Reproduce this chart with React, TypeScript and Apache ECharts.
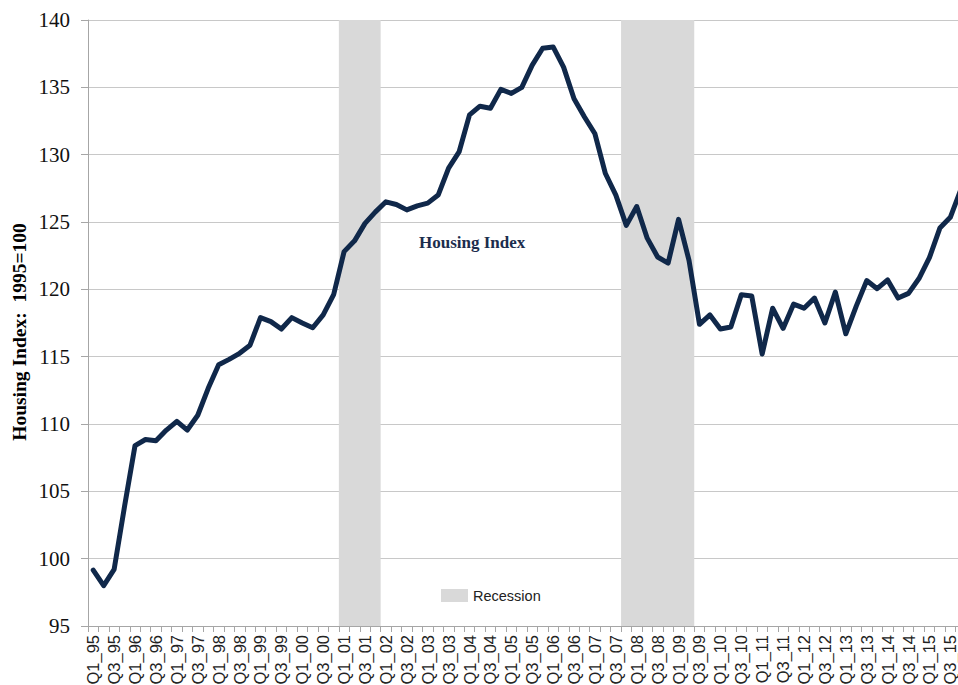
import React, { useEffect, useRef } from "react";
import * as echarts from "echarts";

const years = ["95","96","97","98","99","00","01","02","03","04","05","06","07","08","09","10","11","12","13","14","15"];
const categories: string[] = [];
years.forEach((y) => { for (let q = 1; q <= 4; q++) categories.push(`Q${q}_${y}`); });

const housingIndex = [
  99.15, 98.0, 99.2, 103.9, 108.4, 108.85, 108.75, 109.55, 110.2, 109.55, 110.65, 112.65, 114.4, 114.8,
  115.25, 115.85, 117.9, 117.6, 117.05, 117.9, 117.5, 117.15, 118.1, 119.6, 122.8, 123.6, 124.9, 125.75,
  126.5, 126.3, 125.9, 126.2, 126.4, 127.0, 129.0, 130.2, 132.95, 133.6, 133.45, 134.85, 134.55, 135.0,
  136.65, 137.9, 138.0, 136.5, 134.15, 132.8, 131.55, 128.6, 127.0, 124.75, 126.15, 123.8, 122.4, 121.95,
  125.2, 122.15, 117.4, 118.1, 117.05, 117.2, 119.6, 119.5, 115.2, 118.6, 117.1, 118.9, 118.6, 119.35,
  117.5, 119.8, 116.7, 118.75, 120.65, 120.05, 120.7, 119.35, 119.7, 120.8, 122.35, 124.55, 125.35, 127.4
];

const recessions: [string, string][] = [["Q1_01", "Q4_01"], ["Q4_07", "Q2_09"]];
const yTicks = { min: 95, max: 140, interval: 5 };

export default function App() {
  const ref = useRef<HTMLDivElement>(null);
  useEffect(() => {
    if (!ref.current) return;
    const chart = echarts.init(ref.current, undefined, { renderer: "svg" });
    const recessionData = recessions.map(([s, e]) => [categories.indexOf(s), categories.indexOf(e)]);
    chart.setOption({
      animation: false,
      backgroundColor: "#ffffff",
      grid: { left: 88, right: 34, top: 20, bottom: 59, outerBoundsMode: "none", containLabel: false },
      legend: {
        data: [{ name: "Recession", icon: "rect" }],
        left: 436,
        top: 583,
        itemWidth: 27,
        itemHeight: 13,
        itemGap: 6,
        textStyle: { fontFamily: "Liberation Sans", fontSize: 14.5, color: "#222" },
      },
      xAxis: {
        type: "category",
        data: categories,
        boundaryGap: true,
        axisLine: { lineStyle: { color: "#a6a6a6", width: 1 } },
        axisTick: { show: true, interval: 0, length: 6, lineStyle: { color: "#a6a6a6" } },
        axisLabel: {
          interval: 1,
          rotate: 90,
          margin: 9,
          fontFamily: "Liberation Sans",
          fontSize: 16.5,
          color: "#222",
        },
        splitLine: { show: false },
      },
      yAxis: {
        type: "value",
        min: yTicks.min,
        max: yTicks.max,
        interval: yTicks.interval,
        axisLine: { show: true, lineStyle: { color: "#a6a6a6", width: 1 } },
        axisTick: { show: true, length: 7, lineStyle: { color: "#a6a6a6" } },
        axisLabel: { margin: 18, fontFamily: "Liberation Serif", fontSize: 21, color: "#111" },
        splitLine: { show: true, lineStyle: { color: "#c8c8c8", width: 1 } },
      },
      graphic: [
        {
          type: "text",
          left: 419,
          top: 234,
          style: {
            text: "Housing Index",
            fontFamily: "Liberation Serif",
            fontWeight: "bold",
            fontSize: 17,
            fill: "#1c2d4d",
          },
        },
        {
          type: "text",
          x: 19,
          y: 332,
          rotation: Math.PI / 2,
          style: {
            text: "Housing Index:  1995=100",
            fontFamily: "Liberation Serif",
            fontWeight: "bold",
            fontSize: 19.5,
            fill: "#000",
            align: "center",
            verticalAlign: "middle",
          },
        },
      ],
      series: [
        {
          name: "Recession",
          type: "custom",
          data: recessionData,
          itemStyle: { color: "#d9d9d9" },
          silent: true,
          z: 1,
          renderItem: (params: any, api: any) => {
            const s = api.value(0);
            const e = api.value(1);
            const band = api.size([1, 0])[0];
            const p0 = api.coord([s, yTicks.max]);
            const p1 = api.coord([e, yTicks.min]);
            return {
              type: "rect",
              shape: { x: p0[0] - band / 2, y: p0[1], width: p1[0] - p0[0] + band, height: p1[1] - p0[1] },
              style: { fill: "#d9d9d9" },
            };
          },
          encode: { x: [0, 1] },
        },
        {
          name: "Housing Index",
          type: "line",
          data: housingIndex,
          symbol: "none",
          lineStyle: { color: "#10284a", width: 5, join: "round", cap: "round" },
          z: 3,
        },
      ],
    });
    return () => chart.dispose();
  }, []);
  return (
    <div style={{ position: "fixed", left: 0, top: 0, width: 958, height: 685, overflow: "hidden", background: "#fff" }}>
      <div ref={ref} style={{ width: 1000, height: 685 }} />
    </div>
  );
}
